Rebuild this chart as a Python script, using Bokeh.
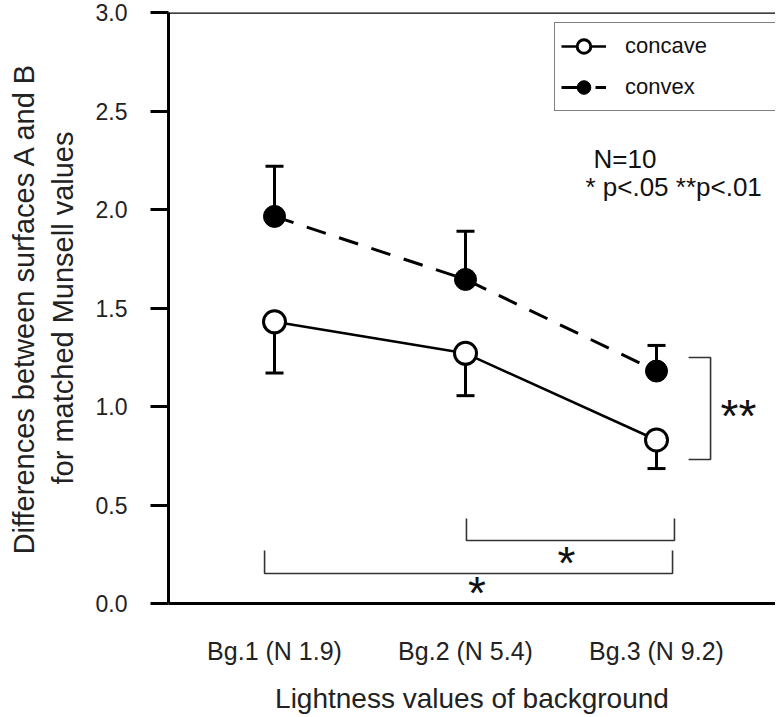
from bokeh.plotting import figure
from bokeh.models import (Legend, LegendItem, Whisker, ColumnDataSource, Span, Label,
                          FixedTicker, TeeHead)
from bokeh.embed import file_html
from bokeh.resources import INLINE

FONT = "Liberation Sans"

# ---- data ----
categories = ["Bg.1 (N 1.9)", "Bg.2 (N 5.4)", "Bg.3 (N 9.2)"]
xpos = [1, 2, 3]
concave_mean = [1.43, 1.27, 0.83]
concave_lower = [1.17, 1.055, 0.685]
convex_mean = [1.965, 1.645, 1.18]
convex_upper = [2.22, 1.89, 1.31]
y_ticks = [0.0, 0.5, 1.0, 1.5, 2.0, 2.5, 3.0]

# significance brackets (data coordinates)
bracket_lower_x = [0.948, 0.948, 3.084, 3.084]
bracket_lower_y = [0.269, 0.152, 0.152, 0.269]
bracket_upper_x = [2.005, 2.005, 3.094, 3.094]
bracket_upper_y = [0.431, 0.320, 0.320, 0.431]
bracket_right_x = [3.168, 3.283, 3.283, 3.168]
bracket_right_y = [1.249, 1.249, 0.731, 0.731]

p = figure(width=775, height=717, output_backend="svg", toolbar_location=None,
           x_range=(0.445, 3.623), y_range=(0, 3.0),
           min_border_left=168, min_border_right=0, min_border_top=12, min_border_bottom=114)
p.outline_line_color = None
p.grid.grid_line_color = None
p.background_fill_color = "white"
p.border_fill_color = "white"

# y axis
ya = p.yaxis[0]
ya.ticker = FixedTicker(ticks=y_ticks)
ya.major_label_overrides = {t: f"{t:.1f}" for t in y_ticks}
ya.axis_line_width = 3
ya.major_tick_line_width = 3
ya.major_tick_out = 18
ya.major_tick_in = 0
ya.minor_tick_line_color = None
ya.major_label_standoff = 23
ya.major_label_text_font = FONT
ya.major_label_text_font_size = "23px"
ya.major_label_text_color = "#222222"
ya.axis_label = "Differences between surfaces A and B\nfor matched Munsell values"
ya.axis_label_text_font = FONT
ya.axis_label_text_font_size = "29px"
ya.axis_label_text_font_style = "normal"
ya.axis_label_text_color = "#222222"
ya.axis_label_standoff = 14

# x axis
xa = p.xaxis[0]
xa.ticker = FixedTicker(ticks=xpos)
xa.major_label_overrides = {x: c for x, c in zip(xpos, categories)}
xa.axis_line_width = 3
xa.major_tick_line_color = None
xa.major_tick_out = 0
xa.major_tick_in = 0
xa.minor_tick_line_color = None
xa.major_label_standoff = 33
xa.major_label_text_font = FONT
xa.major_label_text_font_size = "25px"
xa.major_label_text_color = "#222222"
xa.axis_label = "Lightness values of background"
xa.axis_label_text_font = FONT
xa.axis_label_text_font_size = "28px"
xa.axis_label_text_font_style = "normal"
xa.axis_label_text_color = "#222222"
xa.axis_label_standoff = 15

# top frame line
p.add_layout(Span(location=3.0, dimension="width", line_color="black", line_width=2.5))

src = ColumnDataSource(dict(x=xpos, cm=concave_mean, cl=concave_lower,
                            vm=convex_mean, vu=convex_upper))

# error bars
p.add_layout(Whisker(source=src, base="x", upper="vu", lower="vm", dimension="height",
                     line_color="black", line_width=3, lower_head=None,
                     upper_head=TeeHead(size=18, line_width=3, line_color="black")))
p.add_layout(Whisker(source=src, base="x", upper="cm", lower="cl", dimension="height",
                     line_color="black", line_width=3, upper_head=None,
                     lower_head=TeeHead(size=18, line_width=3, line_color="black")))

# lines and markers
l_cc = p.line("x", "cm", source=src, line_color="black", line_width=2.5)
l_cv = p.line("x", "vm", source=src, line_color="black", line_width=3, line_dash="20 14")
m_cc = p.scatter("x", "cm", source=src, size=22, marker="circle", fill_color="white",
                 line_color="black", line_width=3)
m_cv = p.scatter("x", "vm", source=src, size=22, marker="circle", fill_color="black",
                 line_color="black", line_width=1)

# brackets
for bx, by in [(bracket_lower_x, bracket_lower_y), (bracket_upper_x, bracket_upper_y),
               (bracket_right_x, bracket_right_y)]:
    p.line(bx, by, line_color="#333333", line_width=1.6)

# annotations
def lab(x, y, t, size, align="left", style="normal"):
    p.add_layout(Label(x=x, y=y, text=t, text_font=FONT, text_font_size=size,
                       text_align=align, text_baseline="alphabetic", text_color="#111111",
                       text_font_style=style))

lab(2.670, 2.254, "N=10", "26px")
lab(2.628, 2.112, "* p<.05 **p<.01", "26px")
lab(2.529, 0.208, "*", "46px", "center")
lab(2.060, 0.051, "*", "46px", "center")
lab(3.429, 0.954, "**", "46px", "center")

legend = Legend(items=[LegendItem(label="concave", renderers=[l_cc, m_cc]),
                       LegendItem(label="convex", renderers=[l_cv, m_cv])],
                location=(386, 492), orientation="vertical",
                glyph_width=45, glyph_height=34, spacing=7, padding=6, margin=0,
                label_standoff=19, label_width=151,
                label_text_font=FONT, label_text_font_size="22px",
                label_text_color="#111111",
                border_line_color="black", border_line_width=1.5,
                background_fill_color="white", background_fill_alpha=1)
p.add_layout(legend, "center")

open("out.html", "w").write(file_html(p, INLINE))
